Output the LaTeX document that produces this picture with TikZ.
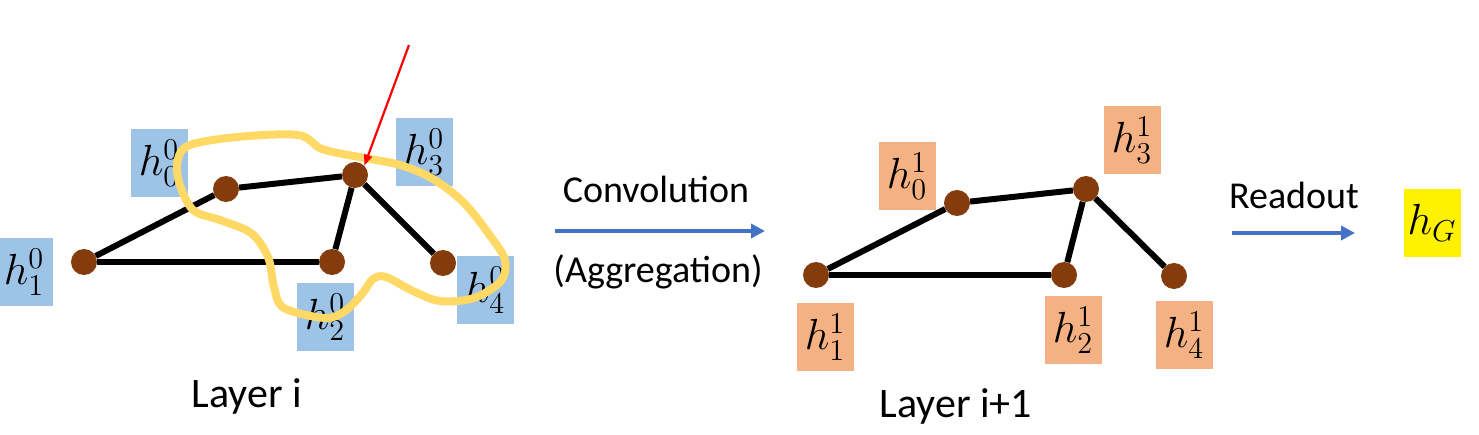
\documentclass[tikz,border=0pt]{standalone}
\usepackage{graphicx}
\usepackage{fontspec}
\setmainfont{Carlito}
\usetikzlibrary{arrows.meta}
\definecolor{nodebrown}{HTML}{843C0C}
\definecolor{boxblue}{HTML}{9DC3E6}
\definecolor{boxorange}{HTML}{F4B183}
\definecolor{loopyellow}{HTML}{FFD966}
\definecolor{arrowblue}{HTML}{4472C4}
\newcommand{\hlab}[2]{\scalebox{2.1}{\fontsize{20.74}{24}\selectfont$h^{#2}_{#1}$}}
\newcommand{\hsub}[1]{\scalebox{2.1}{\fontsize{20.74}{24}\selectfont$h_{#1}$}}
\tikzset{
  vtx/.style={circle, fill=nodebrown, inner sep=0pt, minimum size=26pt},
  gedge/.style={line width=6pt, black},
  hbox/.style={inner sep=0pt, minimum width=57pt, minimum height=68pt},
  hzero/.style={hbox, fill=boxblue},
  hone/.style={hbox, fill=boxorange},
  flowarrow/.style={line width=4pt, arrowblue, -{Triangle[length=14pt,width=14pt]}},
  bigtext/.style={font=\fontsize{42}{50}\selectfont, anchor=base, inner sep=0pt},
  midtext/.style={font=\fontsize{38}{46}\selectfont, anchor=base, inner sep=0pt},
}
\begin{document}
\begin{tikzpicture}[x=1pt, y=-1pt]
\useasboundingbox (0,0) rectangle (1479,435);
% ---- left graph labels
\node[hzero] (l0) at (159,163) {\hlab{0}{0}};
\node[hzero] (l1) at (24,272) {\hlab{1}{0}};
\node[hzero] (l2) at (325,317) {\hlab{2}{0}};
\node[hzero] (l3) at (424,152) {\hlab{3}{0}};
\node[hzero] (l4) at (485,290) {\hlab{4}{0}};
% ---- left graph
\node[vtx] (n0) at (226,189) {};
\node[vtx] (n1) at (84,262) {};
\node[vtx] (n2) at (332,262) {};
\node[vtx] (n3) at (355,175) {};
\node[vtx] (n4) at (443,263) {};
\draw[gedge] (n1) -- (n0);
\draw[gedge] (n0) -- (n3);
\draw[gedge] (n1) -- (n2);
\draw[gedge] (n3) -- (n2);
\draw[gedge] (n3) -- (n4);
% ---- yellow loop
\draw[loopyellow, line width=8pt, line join=round]
  plot[smooth cycle, tension=0.55] coordinates {
   (298,135) (237,137) (190,145) (178,159) (179,182) (193,210) (220,220)
   (251,233) (268,257) (274,287) (284,308) (325,318) (345,311) (362,294)
   (373,279) (386,277) (413,291) (440,301) (474,298) (501,281) (505,260)
   (491,237) (464,203) (433,179) (400,165) (359,157) (322,149)};
% ---- red arrow
\coordinate (rstart) at (409,45);
\draw[red, line width=2.2pt, -{Triangle[length=11pt,width=8pt]}] (rstart) -- (n3.north east);
\node[bigtext] (layi) at (247,407) {Layer i};
% ---- convolution arrow
\coordinate (ca) at (555,231);
\coordinate (cb) at (765,231);
\draw[flowarrow] (ca) -- (cb);
\node[midtext] (conv) at (656,203) {Convolution};
\node[midtext] (aggr) at (658,283) {(Aggregation)};
% ---- right graph labels
\node[hone] (r0) at (907,176) {\hlab{0}{1}};
\node[hone] (r1) at (825,337) {\hlab{1}{1}};
\node[hone] (r2) at (1073,330) {\hlab{2}{1}};
\node[hone] (r3) at (1132,140) {\hlab{3}{1}};
\node[hone] (r4) at (1184,335) {\hlab{4}{1}};
% ---- right graph
\node[vtx] (m0) at (957,203) {};
\node[vtx] (m1) at (816,275) {};
\node[vtx] (m2) at (1064,275) {};
\node[vtx] (m3) at (1086,189) {};
\node[vtx] (m4) at (1174,276) {};
\draw[gedge] (m1) -- (m0);
\draw[gedge] (m0) -- (m3);
\draw[gedge] (m1) -- (m2);
\draw[gedge] (m3) -- (m2);
\draw[gedge] (m3) -- (m4);
\node[bigtext] (layi1) at (956,417) {Layer i+1};
% ---- readout
\coordinate (ra) at (1232,233);
\coordinate (rb) at (1355,233);
\draw[flowarrow] (ra) -- (rb);
\node[midtext] (read) at (1294,209) {Readout};
\node[hbox, fill=yellow] (hg) at (1432,223) {\hsub{G}};
\end{tikzpicture}
\end{document}
